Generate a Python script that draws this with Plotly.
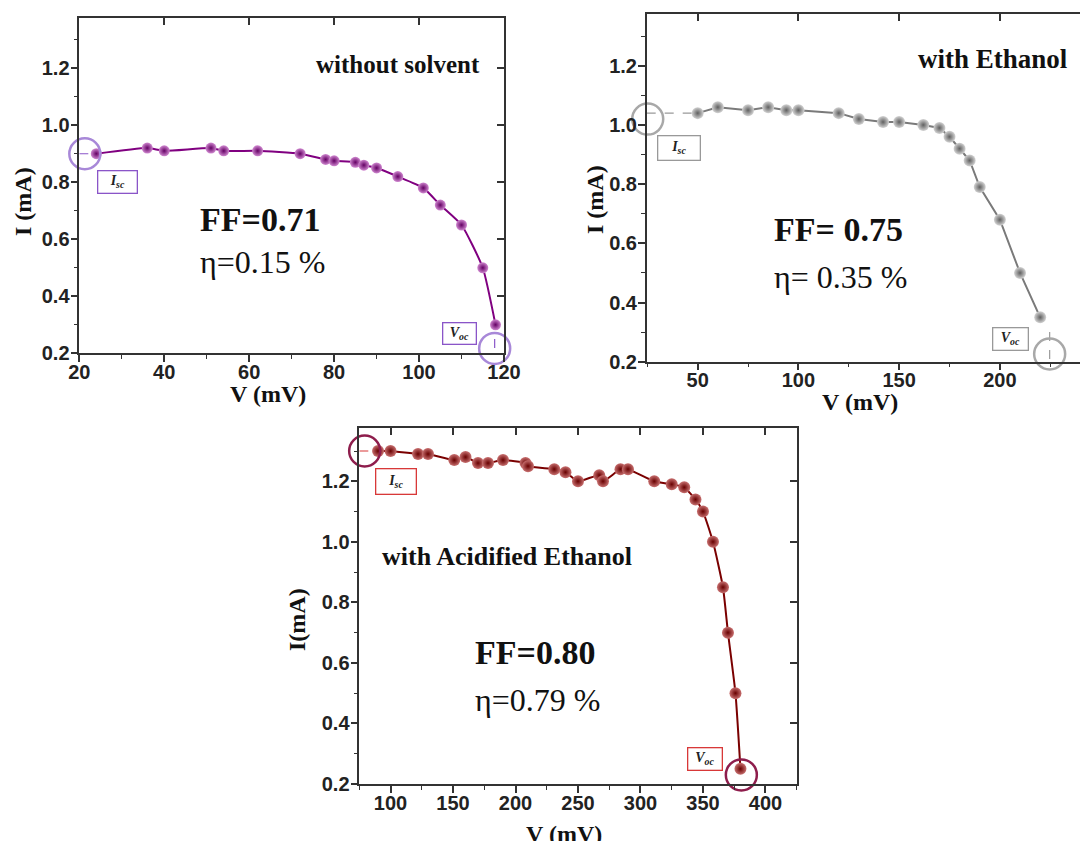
import plotly.graph_objects as go

W, H = 1088, 841
OFF = 8  # page body margin of the viewer

# ---------------- data ----------------
# Panel 1: without solvent
V1 = [24, 36, 40, 51, 54, 62, 72, 78, 80, 85, 87, 90, 95, 101, 105, 110, 115, 118]
I1 = [0.90, 0.92, 0.91, 0.92, 0.91, 0.91, 0.90, 0.88, 0.875, 0.87, 0.86, 0.85,
      0.82, 0.78, 0.72, 0.65, 0.50, 0.30]
# Panel 2: with Ethanol
V2 = [50, 60, 75, 85, 94, 100, 120, 130, 142, 150, 162, 170, 175, 180, 185, 190,
      200, 210, 220]
I2 = [1.04, 1.06, 1.05, 1.06, 1.05, 1.05, 1.04, 1.02, 1.01, 1.01, 1.00, 0.99,
      0.96, 0.92, 0.88, 0.79, 0.68, 0.50, 0.35]
# Panel 3: with Acidified Ethanol
V3 = [90, 100, 122, 130, 151, 160, 170, 178, 190, 208, 210, 231, 240, 250, 267,
      270, 284, 290, 311, 325, 335, 344, 350, 358, 366, 370, 376, 380]
I3 = [1.30, 1.30, 1.29, 1.29, 1.27, 1.28, 1.26, 1.26, 1.27, 1.26, 1.25, 1.24,
      1.23, 1.20, 1.22, 1.20, 1.24, 1.24, 1.20, 1.19, 1.18, 1.14, 1.10, 1.00,
      0.85, 0.70, 0.50, 0.25]

# Isc / Voc highlight positions (V, I)
ISC1, VOC1 = (21.3, 0.90), (117.8, 0.217)
ISC2, VOC2 = (25.2, 1.02), (224.7, 0.226)
ISC3, VOC3 = (79.3, 1.30), (380.7, 0.23)

TITLES = ["without solvent", "with Ethanol", "with Acidified Ethanol"]
FF_TXT = ["FF=0.71", "FF= 0.75", "FF=0.80"]
ETA_TXT = ["\u03b7=0.15 %", "\u03b7= 0.35 %", "\u03b7=0.79 %"]

X1R = [20, 120]
X2R = [24.7, 247.7]
X3R = [75, 425]
YR = [0.2, 1.375]


def px(x):
    return (x - OFF) / W


def py(y):
    return 1 - (y - OFF) / H


fig = go.Figure()

panels = [
    dict(V=V1, I=I1, isc=ISC1, voc=VOC1, xa="x", ya="y", xr=X1R, col="#640064",
         light="#d088d0", circ="#a888d8", box="#8a55c8", spline=True, ms=11),
    dict(V=V2, I=I2, isc=ISC2, voc=VOC2, xa="x2", ya="y2", xr=X2R, col="#606060",
         light="#d4d4d4", circ="#a8a8a8", box="#999999", spline=False, ms=12),
    dict(V=V3, I=I3, isc=ISC3, voc=VOC3, xa="x3", ya="y3", xr=X3R, col="#680000",
         light="#c87070", circ="#8e1d4c", box="#d83838", spline=True, ms=12),
]
LINECOL = ["#800080", "#7a7a7a", "#7a0000"]

for p, lc in zip(panels, LINECOL):
    # dashed guide lines from axis to Isc and Voc
    fig.add_trace(go.Scatter(
        x=[p["xr"][0], p["V"][0]], y=[p["I"][0], p["I"][0]], mode="lines",
        line=dict(color=p["box"], width=1.2, dash="dash"),
        xaxis=p["xa"], yaxis=p["ya"], showlegend=False, hoverinfo="skip", cliponaxis=False))
    fig.add_trace(go.Scatter(
        x=[p["voc"][0], p["voc"][0]], y=[p["I"][-1] - 0.05, 0.19], mode="lines",
        line=dict(color=p["box"], width=1.2, dash="dash"),
        xaxis=p["xa"], yaxis=p["ya"], showlegend=False, hoverinfo="skip", cliponaxis=False))
    # curve
    fig.add_trace(go.Scatter(
        x=p["V"], y=p["I"], mode="lines+markers",
        line=dict(color=lc, width=2,
                  shape="spline" if p["spline"] else "linear", smoothing=0.5),
        marker=dict(size=p["ms"], color=p["light"],
                    gradient=dict(type="radial", color=p["col"]),
                    line=dict(width=0)),
        xaxis=p["xa"], yaxis=p["ya"], showlegend=False, cliponaxis=False))
    # Isc / Voc circles
    fig.add_trace(go.Scatter(
        x=[p["isc"][0], p["voc"][0]], y=[p["isc"][1], p["voc"][1]], mode="markers",
        marker=dict(symbol="circle-open", size=31, color=p["circ"], line=dict(width=2.5)),
        xaxis=p["xa"], yaxis=p["ya"], showlegend=False, hoverinfo="skip", cliponaxis=False))

# empty traces to register mirrored tick axes
for xa, ya in [("x4", "y"), ("x", "y4"), ("x5", "y2"), ("x6", "y3"), ("x3", "y6")]:
    fig.add_trace(go.Scatter(x=[], y=[], xaxis=xa, yaxis=ya, showlegend=False))

tickfont = dict(family="Liberation Sans, Arial", size=20, color="#222222", weight="bold")
LC = "#333333"


def base_x(domain, rng, dtick, tick0, minor, anchor, mirror=True):
    return dict(domain=domain, range=rng, autorange=False, anchor=anchor,
                showline=True, linecolor=LC, linewidth=1.5, mirror=mirror,
                ticks="outside", ticklen=7, tickwidth=1.5, tickcolor=LC,
                dtick=dtick, tick0=tick0, tickfont=tickfont, automargin=False,
                ticklabelstandoff=-7,
                minor=dict(dtick=minor, tick0=tick0, ticks="outside", ticklen=4,
                           tickwidth=1.2, tickcolor=LC),
                showgrid=False, zeroline=False, fixedrange=True)


def base_y(domain, anchor, mirror=True):
    return dict(domain=domain, range=YR, autorange=False, anchor=anchor,
                showline=True, linecolor=LC, linewidth=1.5, mirror=mirror,
                ticks="outside", ticklen=7, tickwidth=1.5, tickcolor=LC,
                dtick=0.2, tick0=0.2, tickformat=".1f", tickfont=tickfont,
                automargin=False, ticklabelstandoff=-3,
                minor=dict(dtick=0.1, tick0=0.2, ticks="outside", ticklen=4,
                           tickwidth=1.2, tickcolor=LC),
                showgrid=False, zeroline=False, fixedrange=True)


def mirror_x(over, anchor, rng, dtick, tick0):
    return dict(overlaying=over, anchor=anchor, side="top", range=rng, autorange=False,
                ticks="inside", ticklen=7, tickwidth=1.5, tickcolor=LC, dtick=dtick,
                tick0=tick0, showticklabels=False, showline=False, showgrid=False,
                zeroline=False, automargin=False)


def mirror_y(over, anchor):
    return dict(overlaying=over, anchor=anchor, side="right", range=YR,
                autorange=False, ticks="inside", ticklen=7, tickwidth=1.5, tickcolor=LC,
                dtick=0.2, tick0=0.2, showticklabels=False, showline=False,
                showgrid=False, zeroline=False, automargin=False)


d1x = [px(79.3), px(504)]
d1y = [py(353.3), py(18.3)]
d2x = [px(646.7), 1.0]
d2y = [py(361.7), py(14)]
d3x = [px(359.3), px(796.7)]
d3y = [py(784), py(428.3)]

fig.update_layout(
    width=W, height=H,
    margin=dict(l=0, r=0, t=0, b=0, pad=0, autoexpand=False),
    paper_bgcolor="white", plot_bgcolor="white", showlegend=False,
    xaxis=base_x(d1x, X1R, 20, 20, 10, "y"),
    yaxis=base_y(d1y, "x"),
    xaxis2=base_x(d2x, X2R, 50, 50, 25, "y2"),
    yaxis2=base_y(d2y, "x2", mirror=False),
    xaxis3=base_x(d3x, X3R, 50, 100, 25, "y3"),
    yaxis3=base_y(d3y, "x3"),
    xaxis4=mirror_x("x", "y", X1R, 20, 20),
    yaxis4=mirror_y("y", "x"),
    xaxis5=mirror_x("x2", "y2", X2R, 50, 50),
    xaxis6=mirror_x("x3", "y3", X3R, 50, 100),
    yaxis6=mirror_y("y3", "x3"),
)

ann = []
serif = "Liberation Serif"


def txt(x, y, text, size, bold=False, xanchor="left", angle=0, color="#111111"):
    ann.append(dict(x=px(x), y=py(y), xref="paper", yref="paper", text=text,
                    showarrow=False, xanchor=xanchor, yanchor="middle", textangle=angle,
                    font=dict(family=serif, size=size, color=color,
                              weight="bold" if bold else "normal")))


# axis titles
txt(268, 394, "V (mV)", 24, True, "center")
txt(23, 202, "I (mA)", 24, True, "center", -90)
txt(860, 402, "V (mV)", 24, True, "center")
txt(595, 200, "I (mA)", 24, True, "center", -90)
txt(564, 834, "V (mV)", 24, True, "center")
txt(297, 620, "I(mA)", 24, True, "center", -90)

# panel labels
txt(482, 64, TITLES[0], 25, True, "right")
txt(1070, 59, TITLES[1], 27, True, "right")
txt(380, 556, TITLES[2], 26, True, "left")

# FF / eta
txt(198, 220, FF_TXT[0], 34, True)
txt(198, 262, ETA_TXT[0], 32)
txt(772, 230, FF_TXT[1], 34, True)
txt(772, 277, ETA_TXT[1], 32)
txt(473, 652, FF_TXT[2], 34, True)
txt(473, 700, ETA_TXT[2], 32)


# Isc / Voc boxes
def box(cx, cy, w, h, text, color):
    ann.append(dict(x=px(cx), y=py(cy), xref="paper", yref="paper", text=text,
                    showarrow=False, xanchor="center", yanchor="middle",
                    width=w, height=h, borderpad=0, bordercolor=color, borderwidth=1.3,
                    bgcolor="white",
                    font=dict(family=serif, size=14, color="#222222", weight="bold")))


ISC = "<i>I<sub>sc</sub></i>"
VOC = "<i>V<sub>oc</sub></i>"
box(117, 182, 38, 21, ISC, panels[0]["box"])
box(459, 334, 32, 20, VOC, panels[0]["box"])
box(679, 148, 41, 23, ISC, panels[1]["box"])
box(1010, 339, 34, 21, VOC, panels[1]["box"])
box(395.5, 481, 39, 24, ISC, panels[2]["box"])
box(705, 759, 33, 21, VOC, panels[2]["box"])

fig.update_layout(annotations=ann)

fig.write_html("out.html")
